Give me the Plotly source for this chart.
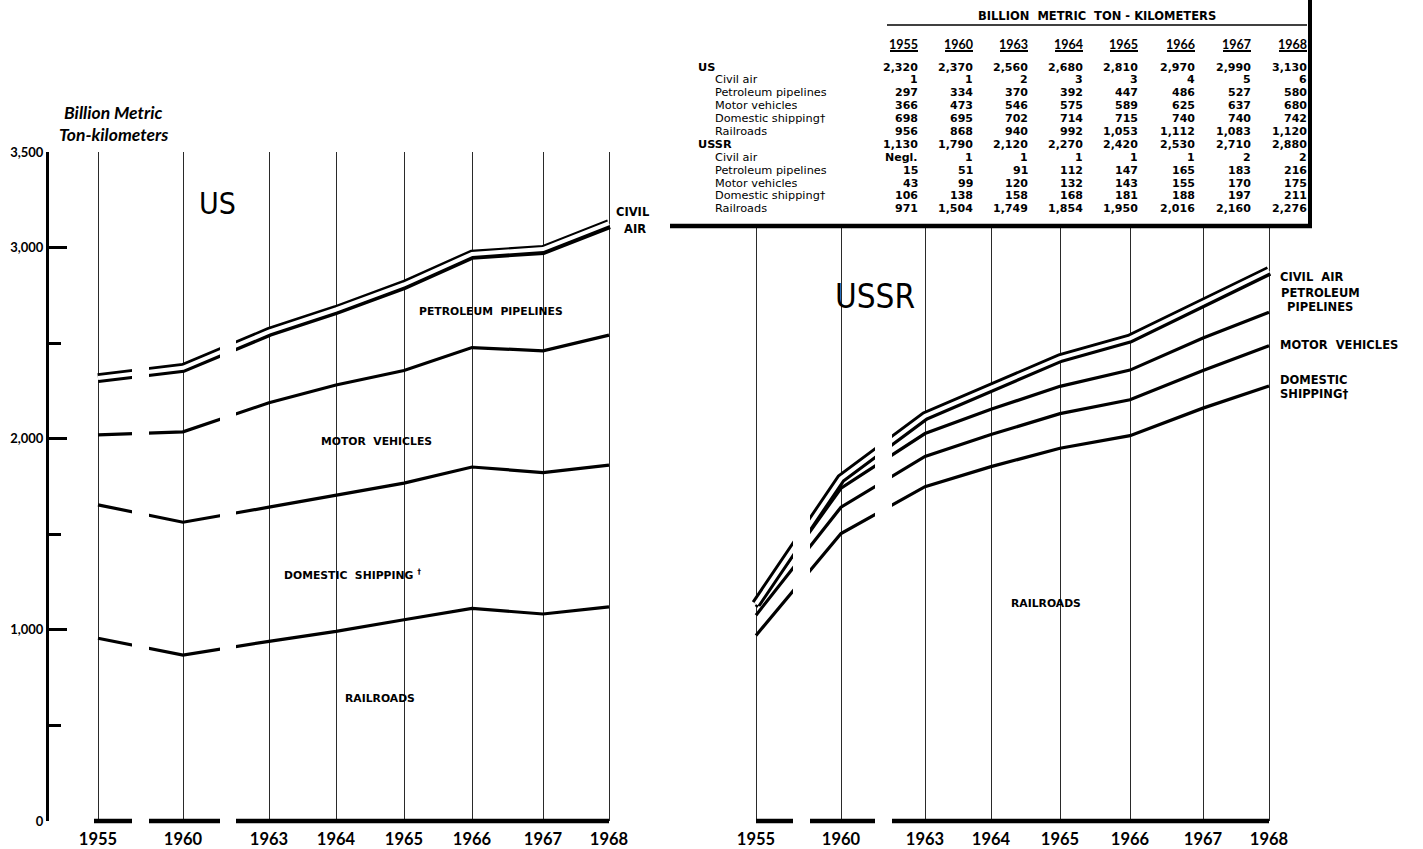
import plotly.graph_objects as go

# ---------------- data ----------------
YEARS = [1955, 1960, 1963, 1964, 1965, 1966, 1967, 1968]

US_TOTAL = [2320, 2370, 2560, 2680, 2810, 2970, 2990, 3130]
US_CIVIL_AIR = [1, 1, 2, 3, 3, 4, 5, 6]
US_PIPELINES = [297, 334, 370, 392, 447, 486, 527, 580]
US_MOTOR = [366, 473, 546, 575, 589, 625, 637, 680]
US_SHIPPING = [698, 695, 702, 714, 715, 740, 740, 742]
US_RAIL = [956, 868, 940, 992, 1053, 1112, 1083, 1120]

USSR_TOTAL = [1130, 1790, 2120, 2270, 2420, 2530, 2710, 2880]
USSR_CIVIL_AIR = [0, 1, 1, 1, 1, 1, 2, 2]   # 0 = "Negl."
USSR_PIPELINES = [15, 51, 91, 112, 147, 165, 183, 216]
USSR_MOTOR = [43, 99, 120, 132, 143, 155, 170, 175]
USSR_SHIPPING = [106, 138, 158, 168, 181, 188, 197, 211]
USSR_RAIL = [971, 1504, 1749, 1854, 1950, 2016, 2160, 2276]

Y_TICKS_MAJOR = [0, 1000, 2000, 3000, 3500]
Y_TICKS_MINOR = [500, 1500, 2500]

# ---------------- layout helpers (pixels) ----------------
W, H = 1423, 849
Y0_PX, Y3500_PX = 821, 152
K = (Y0_PX - Y3500_PX) / 3500.0          # px per unit
USSR_TOP_PX = 228
US_XPOS = [98, 183, 269, 336, 404, 472, 543, 609]
USSR_XPOS = [756, 841, 925, 991, 1060, 1130, 1203, 1269]
FONT = "Lato"
WIDE = "DejaVu Sans"
COND = "DejaVu Sans Condensed, Roboto, sans-serif"


def px(x, y):
    return x / W, 1 - y / H


def cum(*series):
    out, run = [], [0] * len(series[0])
    for s in series:
        run = [a + b for a, b in zip(run, s)]
        out.append(run)
    return out


fig = go.Figure()


def add_panel(xpos, xa, ya, comps):
    levels = cum(*comps)  # rail, +ship, +motor, +pipe, +air
    for lv in levels[:3]:
        fig.add_trace(go.Scatter(x=xpos, y=lv, mode="lines", xaxis=xa, yaxis=ya,
                                 line=dict(color="black", width=3.2),
                                 hoverinfo="skip", showlegend=False))
    fig.add_trace(go.Scatter(x=xpos, y=levels[3], mode="lines", xaxis=xa, yaxis=ya,
                             line=dict(color="black", width=10),
                             hoverinfo="skip", showlegend=False))
    fig.add_trace(go.Scatter(x=xpos, y=levels[4], mode="lines", xaxis=xa, yaxis=ya,
                             line=dict(color="white", width=4),
                             hoverinfo="skip", showlegend=False))


add_panel(US_XPOS, "x", "y", [US_RAIL, US_SHIPPING, US_MOTOR, US_PIPELINES, US_CIVIL_AIR])
add_panel(USSR_XPOS, "x2", "y2", [USSR_RAIL, USSR_SHIPPING, USSR_MOTOR, USSR_PIPELINES, USSR_CIVIL_AIR])

shapes = []


def pline(x0, y0, x1, y1, w, color="black"):
    a, b = px(x0, y0)
    c, d = px(x1, y1)
    shapes.append(dict(type="line", xref="paper", yref="paper", x0=a, y0=b, x1=c, y1=d,
                       line=dict(color=color, width=w), layer="above"))


def prect(x0, y0, x1, y1):
    a, b = px(x0, y0)
    c, d = px(x1, y1)
    shapes.append(dict(type="rect", xref="paper", yref="paper", x0=a, y0=b, x1=c, y1=d,
                       line=dict(width=0), fillcolor="white", layer="above"))


# baselines
pline(94, Y0_PX, 609, Y0_PX, 4.5)
pline(756, Y0_PX, 1269, Y0_PX, 4.5)
# axis breaks
prect(132, 140, 149, 828)
prect(220, 140, 236, 828)
prect(793, 232, 810, 828)
prect(875, 232, 892, 828)

# table frame
pline(1310, 0, 1310, 227, 4)
pline(670, 226, 1312, 226, 4.5)
pline(887, 25, 1307, 25, 1.5)

COL_R = [918, 973, 1028, 1083, 1138, 1195, 1251, 1307]
ann = []


def text(x, y, s, size, xanchor="center", weight="normal", style="normal", family=FONT,
         yanchor="middle", height=None):
    a, b = px(x, y)
    d = dict(x=a, y=b, xref="paper", yref="paper", text=s, showarrow=False,
             xanchor=xanchor, yanchor=yanchor, borderpad=0,
             font=dict(family=family, size=size, color="black", weight=weight, style=style))
    if height:
        d["height"] = height
    ann.append(d)


text(1097, 16, "BILLION  METRIC  TON - KILOMETERS", 11.5, weight="bold", family=WIDE)
for yr, cx in zip(YEARS, COL_R):
    text(cx + 1, 44, str(yr), 12.5, xanchor="right", weight="bold")
    pline(cx - 28, 51, cx, 51, 2)

rows = [
    ("US", US_TOTAL, True), ("Civil air", US_CIVIL_AIR, False),
    ("Petroleum pipelines", US_PIPELINES, False), ("Motor vehicles", US_MOTOR, False),
    ("Domestic shipping†", US_SHIPPING, False), ("Railroads", US_RAIL, False),
    ("USSR", USSR_TOTAL, True), ("Civil air", USSR_CIVIL_AIR, False),
    ("Petroleum pipelines", USSR_PIPELINES, False), ("Motor vehicles", USSR_MOTOR, False),
    ("Domestic shipping†", USSR_SHIPPING, False), ("Railroads", USSR_RAIL, False),
]
for i, (label, vals, head) in enumerate(rows):
    ry = 67 + i * 12.9
    text(697 if head else 714, ry, label, 11.3, xanchor="left", family=WIDE,
         weight="bold" if head else "normal", height=12.8)
    for v, cx in zip(vals, COL_R):
        s = "Negl." if v == 0 else f"{v:,}"
        text(cx + 1, ry, s, 11, xanchor="right", weight="bold", family=WIDE, height=12.8)

# axis title & panel labels
text(113, 112, "Billion Metric", 17.5, weight="bold", style="italic")
text(113, 134, "Ton-kilometers", 17.5, weight="bold", style="italic")
text(217, 203, "US", 30, family=COND)
text(875, 296, "USSR", 33, family=COND)

# in-chart labels
LBL = 10.8
text(491, 312, "PETROLEUM  PIPELINES", LBL, weight="bold", family=WIDE)
text(376, 441, "MOTOR  VEHICLES", LBL, weight="bold", family=WIDE)
text(352, 574, "DOMESTIC  SHIPPING <sup>†</sup>", LBL, weight="bold", family=WIDE)
text(380, 698, "RAILROADS", LBL, weight="bold", family=WIDE)
text(615, 212, "CIVIL", 11.5, xanchor="left", weight="bold", family=WIDE)
text(623, 229, "AIR", 11.5, xanchor="left", weight="bold", family=WIDE)
text(1046, 603, "RAILROADS", LBL, weight="bold", family=WIDE)
RL = 11.5
text(1279, 277, "CIVIL  AIR", RL, xanchor="left", weight="bold", family=WIDE)
text(1280, 293, "PETROLEUM", RL, xanchor="left", weight="bold", family=WIDE)
text(1286, 307, "PIPELINES", RL, xanchor="left", weight="bold", family=WIDE)
text(1279, 345, "MOTOR  VEHICLES", RL, xanchor="left", weight="bold", family=WIDE)
text(1279, 380, "DOMESTIC", RL, xanchor="left", weight="bold", family=WIDE)
text(1279, 394, "SHIPPING†", RL, xanchor="left", weight="bold", family=WIDE)

grid_common = dict(showgrid=True, gridcolor="#2a2a2a", gridwidth=1.2, showline=False,
                   zeroline=False, ticks="outside", ticklen=3, tickcolor="rgba(0,0,0,0)",
                   tickfont=dict(family=FONT, size=16.5, color="black", weight="bold"),
                   tickmode="array", ticktext=[str(y) for y in YEARS], fixedrange=True,
                   automargin=False)

fig.update_layout(
    width=W, height=H, margin=dict(l=0, r=0, t=0, b=0, autoexpand=False),
    paper_bgcolor="white", plot_bgcolor="rgba(0,0,0,0)",
    showlegend=False,
    xaxis=dict(domain=[0, 700 / W], range=[0, 700], anchor="y", tickvals=US_XPOS, **grid_common),
    xaxis2=dict(domain=[700 / W, 1], range=[700, W], anchor="y2", tickvals=USSR_XPOS, **grid_common),
    yaxis=dict(domain=[(H - Y0_PX) / H, (H - Y3500_PX) / H], range=[0, 3500],
               anchor="free", position=47 / W, showline=True, linecolor="black", linewidth=3,
               ticks="inside", ticklen=18, tickwidth=3, tickcolor="black",
               tickmode="array", tickvals=Y_TICKS_MAJOR,
               ticktext=[f"{v:,}" for v in Y_TICKS_MAJOR],
               minor=dict(tickmode="array", tickvals=Y_TICKS_MINOR, ticks="inside",
                          ticklen=12, tickwidth=3, tickcolor="black", showgrid=False),
               showgrid=False, zeroline=False, fixedrange=True, automargin=False,
               tickfont=dict(family=FONT, size=13, color="black", weight="bold")),
    yaxis2=dict(domain=[(H - Y0_PX) / H, (H - USSR_TOP_PX) / H],
                range=[0, (Y0_PX - USSR_TOP_PX) / K], anchor="x2",
                visible=False, showgrid=False, zeroline=False, fixedrange=True,
                automargin=False),
    shapes=shapes, annotations=ann,
)

fig.write_html("out.html", config={"displayModeBar": False},
               post_script="document.body.style.margin='0';document.body.style.overflow='hidden';")
